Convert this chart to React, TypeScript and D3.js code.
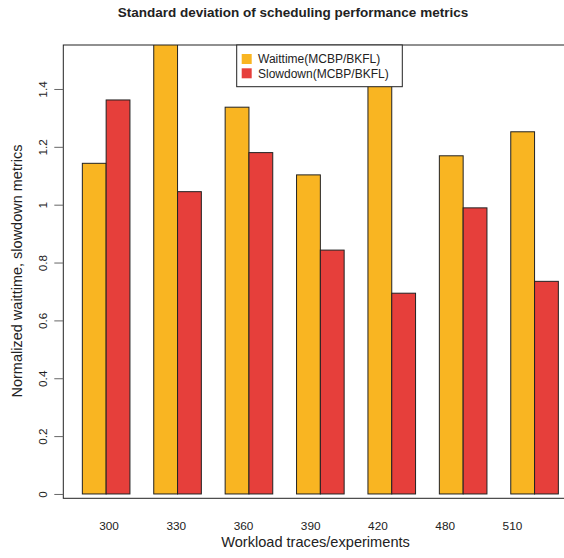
import React, { useRef, useEffect } from "react";
import * as d3 from "d3";

// values
const traces = ["300", "330", "360", "390", "420", "480", "510"];
const waittime = [1.143, 1.62, 1.337, 1.103, 1.5, 1.169, 1.252];
const slowdown = [1.362, 1.045, 1.18, 0.843, 0.694, 0.989, 0.735];
const yTicks = [0, 0.2, 0.4, 0.6, 0.8, 1, 1.2, 1.4];
const seriesNames = ["Waittime(MCBP/BKFL)", "Slowdown(MCBP/BKFL)"];
const colors = ["#F9B522", "#E63F3B"];

const W = 564,
  H = 558;
const plot = { left: 63.3, right: 577.4, top: 45, bottom: 498.3 };
const font = "'Liberation Sans', Arial, Helvetica, sans-serif";

const App = () => {
  const ref = useRef(null);

  useEffect(() => {
    const svg = d3.select(ref.current);
    svg.selectAll("*").remove();

    // barplot units: each bar 1 wide, one unit of space between groups
    const x = d3.scaleLinear().domain([0.2, 21.8]).range([plot.left, plot.right]);
    const y = d3.scaleLinear().domain([-0.015, 1.552]).range([plot.bottom, plot.top]);
    const lab = d3
      .scalePoint()
      .domain(traces)
      .range([x(2.12), x(19.07)]);

    svg
      .append("defs")
      .append("clipPath")
      .attr("id", "plotclip")
      .append("rect")
      .attr("x", plot.left)
      .attr("y", plot.top)
      .attr("width", plot.right - plot.left)
      .attr("height", plot.bottom - plot.top);

    const bars = svg.append("g").attr("clip-path", "url(#plotclip)");
    [waittime, slowdown].forEach((vals, s) => {
      bars
        .append("g")
        .selectAll("rect")
        .data(vals)
        .join("rect")
        .attr("x", (d, i) => x(1 + s + 3 * i))
        .attr("width", x(2) - x(1))
        .attr("y", (d) => y(d))
        .attr("height", (d) => y(0) - y(d))
        .attr("fill", colors[s])
        .attr("stroke", "#222")
        .attr("stroke-width", 1);
    });

    // box
    svg
      .append("rect")
      .attr("x", plot.left)
      .attr("y", plot.top)
      .attr("width", plot.right - plot.left)
      .attr("height", plot.bottom - plot.top)
      .attr("fill", "none")
      .attr("stroke", "#222")
      .attr("stroke-width", 1);

    // y axis
    const yAxis = (g) =>
      g
        .attr("transform", `translate(${plot.left},0)`)
        .call(d3.axisLeft(y).tickValues(yTicks).tickSize(9).tickSizeOuter(0).tickPadding(8).tickFormat(d3.format("")))
        .call((g) => g.select(".domain").remove())
        .call((g) => g.selectAll(".tick line").attr("stroke", "#666"))
        .call((g) =>
          g
            .selectAll(".tick text")
            .attr("transform", "rotate(-90)")
            .attr("x", 0)
            .attr("y", -20)
            .attr("dy", "0.32em")
            .attr("text-anchor", "middle")
            .attr("fill", "#222")
            .attr("font-size", 11.8)
            .attr("font-family", font)
        );
    svg.append("g").call(yAxis);

    // x labels
    svg
      .append("g")
      .selectAll("text")
      .data(traces)
      .join("text")
      .attr("x", (d) => lab(d))
      .attr("y", 526)
      .attr("dy", "0.35em")
      .attr("text-anchor", "middle")
      .attr("font-size", 11.8)
      .attr("font-family", font)
      .attr("fill", "#222")
      .text((d) => d);

    svg
      .append("text")
      .attr("x", 315.5)
      .attr("y", 542)
      .attr("dy", "0.35em")
      .attr("text-anchor", "middle")
      .attr("font-size", 14.6)
      .attr("font-family", font)
      .attr("fill", "#222")
      .text("Workload traces/experiments");

    svg
      .append("text")
      .attr("transform", "translate(17,271) rotate(-90)")
      .attr("dy", "0.35em")
      .attr("text-anchor", "middle")
      .attr("font-size", 14.5)
      .attr("font-family", font)
      .attr("fill", "#222")
      .text("Normalized waittime, slowdown metrics");

    svg
      .append("text")
      .attr("x", 293)
      .attr("y", 12)
      .attr("dy", "0.35em")
      .attr("text-anchor", "middle")
      .attr("font-size", 13.5)
      .attr("font-weight", "bold")
      .attr("font-family", font)
      .attr("fill", "#222")
      .text("Standard deviation of scheduling performance metrics");

    // legend
    const lg = svg.append("g");
    lg.append("rect")
      .attr("x", 236.7)
      .attr("y", plot.top)
      .attr("width", 165.6)
      .attr("height", 41.7)
      .attr("fill", "white")
      .attr("stroke", "#222")
      .attr("stroke-width", 1);
    seriesNames.forEach((name, i) => {
      lg.append("rect")
        .attr("x", 241.7)
        .attr("y", 54 + i * 14.3)
        .attr("width", 10)
        .attr("height", 10)
        .attr("fill", colors[i]);
      lg.append("text")
        .attr("x", 258)
        .attr("y", 59 + i * 14.3)
        .attr("dy", "0.35em")
        .attr("font-size", 12)
        .attr("font-family", font)
        .attr("fill", "#222")
        .text(name);
    });
  }, []);

  return (
    <svg ref={ref} width={W} height={H} style={{ position: "absolute", left: 0, top: 0 }}></svg>
  );
};

export default App;
